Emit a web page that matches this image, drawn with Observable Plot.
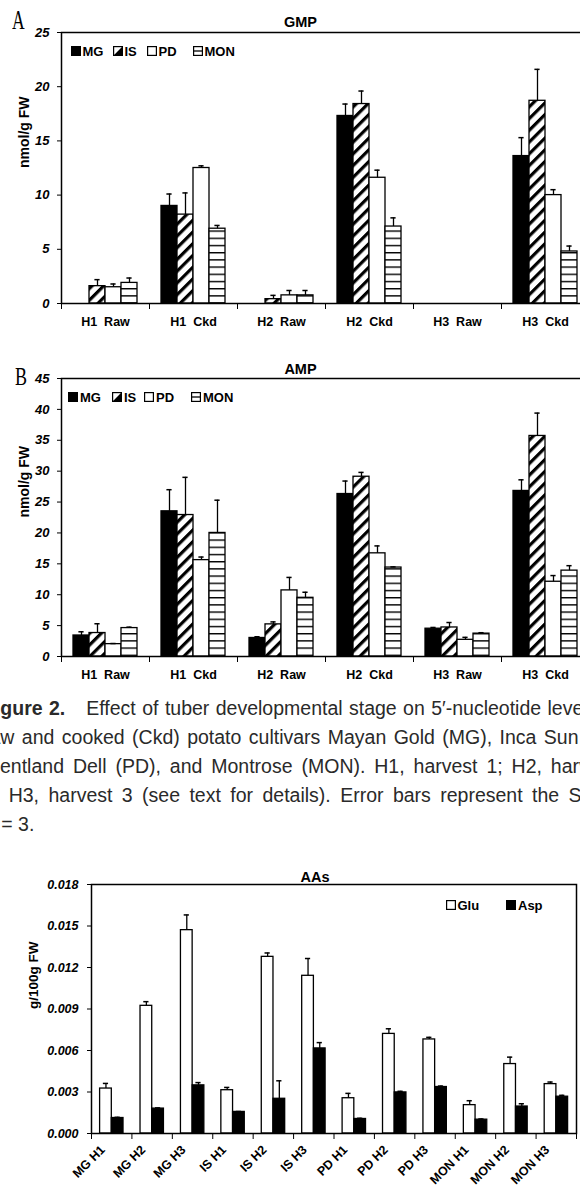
<!DOCTYPE html>
<html><head><meta charset="utf-8">
<script src="https://cdn.jsdelivr.net/npm/d3@7"></script>
<script src="https://cdn.jsdelivr.net/npm/@observablehq/plot@0.6"></script>
<style>
html, body {margin:0; padding:0; overflow:hidden; background:#fff;}
body {width:580px; height:1199px; position:relative; font-family:"Liberation Sans", Arial, sans-serif; color:#000;}
.panel {position:absolute; left:0;}
.panel svg {max-width:none !important; overflow:visible;}
svg text {white-space: pre;}
.lg {position:absolute; font-weight:bold; font-size:13px; line-height:13px; white-space:nowrap;}
.sw {position:absolute; display:block;}
.letter {position:absolute; font-family:"Liberation Serif","DejaVu Serif",serif; line-height:1; transform-origin:left top;}
.cap {position:absolute; left:0; top:694px; width:760px; font-size:19.5px; line-height:29px; color:#2a2a2a;}
.cap div {white-space:pre; position:relative;}
</style></head>
<body>
<svg width="0" height="0" style="position:absolute">
  <defs>
    <pattern id="hatchIS" patternUnits="userSpaceOnUse" width="8.3" height="8.3" patternTransform="rotate(45)">
      <rect width="8.3" height="8.3" fill="white"/>
      <rect x="0" y="0" width="3.2" height="8.3" fill="black"/>
    </pattern>
    <pattern id="linesMON" patternUnits="userSpaceOnUse" width="10" height="7.2">
      <rect width="10" height="7.2" fill="white"/>
      <rect x="0" y="0" width="10" height="1.4" fill="black"/>
    </pattern>
  </defs>
</svg>

<div class="letter" style="left:11.7px; top:6.7px; font-size:27px; transform:scaleX(0.65);">A</div>
<div class="letter" style="left:15px; top:364px; font-size:25px; transform:scaleX(0.72);">B</div>

<div id="panelA" class="panel" style="top:0px; width:600px;"></div>
<div id="panelB" class="panel" style="top:345px; width:600px;"></div>
<div id="panelC" class="panel" style="top:850px; width:580px;"></div>

<div class="cap">
  <div style="left:-17px; word-spacing:1px;"><b>Figure 2.</b><span style="margin-left:21px">Effect of tuber developmental stage on 5′-nucleotide levels in</span></div>
  <div style="left:-17px; word-spacing:2px;">raw and cooked (Ckd) potato cultivars Mayan Gold (MG), Inca Sun (IS),</div>
  <div style="left:-13px; word-spacing:3.5px;">Pentland Dell (PD), and Montrose (MON). H1, harvest 1; H2, harvest</div>
  <div style="left:-17px; word-spacing:4px;">2; H3, harvest 3 (see text for details). Error bars represent the SD,</div>
  <div style="left:-15px;">n = 3.</div>
</div>

<script>
// ---------------- data ----------------
const groupsAB = ["H1  Raw", "H1  Ckd", "H2  Raw", "H2  Ckd", "H3  Raw", "H3  Ckd"];
const cultivars = ["MG", "IS", "PD", "MON"];

// Panel A: GMP (nmol/g FW)
const yTicksA = [0, 5, 10, 15, 20, 25];
const gmpMG    = [0,   9.0, 0,    17.3, 0, 13.6];
const gmpIS    = [1.6, 8.2, 0.4,  18.4, 0, 18.7];
const gmpPD    = [1.5, 12.5, 0.75, 11.6, 0, 10.0];
const gmpMON   = [1.9, 6.9, 0.75, 7.1, 0, 4.8];
const gmpMGsd  = [0,    1.1, 0,    1.1, 0, 1.7];
const gmpISsd  = [0.6,  2.0, 0.35, 1.2, 0, 2.9];
const gmpPDsd  = [0.3,  0.2, 0.45, 0.7, 0, 0.5];
const gmpMONsd = [0.45, 0.3, 0.45, 0.8, 0, 0.5];

// Panel B: AMP (nmol/g FW)
const yTicksB = [0, 5, 10, 15, 20, 25, 30, 35, 40, 45];
const ampMG    = [3.4, 23.5, 3.0, 26.3, 4.5, 26.8];
const ampIS    = [3.8, 22.9, 5.2, 29.1, 4.7, 35.7];
const ampPD    = [2.0, 15.6, 10.7, 16.7, 2.7, 12.1];
const ampMON   = [4.6, 20.0, 9.5, 14.4, 3.7, 13.9];
const ampMGsd  = [0.6, 3.5, 0.2, 2.1, 0.2, 1.8];
const ampISsd  = [1.5, 6.1, 0.4, 0.7, 0.8, 3.7];
const ampPDsd  = [0.1, 0.5, 2.1, 1.2, 0.4, 1.0];
const ampMONsd = [0.15, 5.3, 0.9, 0.1, 0.15, 0.8];

// Panel C: amino acids (g/100g FW)
const catsC = ["MG H1", "MG H2", "MG H3", "IS H1", "IS H2", "IS H3", "PD H1", "PD H2", "PD H3", "MON H1", "MON H2", "MON H3"];
const yTicksC = [0, 0.003, 0.006, 0.009, 0.012, 0.015, 0.018];
const glu   = [0.00325, 0.00923, 0.0147, 0.00313, 0.01277, 0.0114, 0.00255, 0.0072, 0.0068, 0.00205, 0.00502, 0.00357];
const gluSD = [0.00037, 0.0003, 0.0011, 0.0002, 0.00028, 0.00125, 0.00035, 0.00037, 0.00015, 0.00032, 0.0005, 0.00015];
const asp   = [0.00112, 0.0018, 0.00348, 0.00156, 0.00251, 0.00615, 0.00105, 0.00297, 0.00336, 0.001, 0.00195, 0.00266];
const aspSD = [0.00005, 0.00005, 0.0002, 0.00003, 0.0013, 0.00042, 0.00005, 0.00008, 0.00007, 0.00005, 0.0002, 0.0001];

// ---------------- layout / style ----------------
const FONT = '"Liberation Sans", Arial, Helvetica, sans-serif';
const BAND_AB = 88, OFF_AB = 12 / BAND_AB, W_AB = 16 / BAND_AB, CAP_AB = 2.6 / BAND_AB;
const BAND_C = 40.4, OFF_C = 8.6 / BAND_C, W_C = 11.7 / BAND_C, CAP_C = 2.6 / BAND_C;
const fillsAB = ["black", "url(#hatchIS)", "white", "url(#linesMON)"];

function rowsOf(series, sds) {
  const rows = [];
  series.forEach((vals, k) => vals.forEach((v, i) => rows.push({i, k, v, e: sds[k][i]})));
  return rows;
}

function panelAB(el, title, series, sds, yTicks, yMax, opts) {
  const rows = rowsOf(series, sds);
  const shown = rows.filter(d => d.v > 0);
  const center = d => d.i + OFF_AB + (d.k + 0.5) * W_AB;
  const marks = [];
  cultivars.forEach((c, k) => {
    marks.push(Plot.rect(shown.filter(d => d.k === k), {
      x1: d => d.i + OFF_AB + d.k * W_AB, x2: d => d.i + OFF_AB + (d.k + 1) * W_AB,
      y1: 0, y2: "v", fill: fillsAB[k], stroke: "black", strokeWidth: 1.3
    }));
  });
  const withErr = shown.filter(d => d.e > 0);
  marks.push(Plot.ruleX(withErr, {x: center, y1: "v", y2: d => d.v + d.e, stroke: "black", strokeWidth: 1.3}));
  marks.push(Plot.ruleY(withErr, {y: d => d.v + d.e, x1: d => center(d) - CAP_AB, x2: d => center(d) + CAP_AB, stroke: "black", strokeWidth: 1.5}));
  marks.push(Plot.frame({stroke: "black", strokeWidth: 1.5}));
  marks.push(Plot.text(yTicks, {y: d => d, text: d => String(d), frameAnchor: "left", textAnchor: "end", dx: -12, fontSize: 13, fontWeight: "bold", fontStyle: "italic"}));
  marks.push(Plot.text([title], {text: d => d, frameAnchor: "top", dx: -25, dy: opts.titleDy, fontSize: 14.5, fontWeight: "bold"}));
  marks.push(Plot.text(["nmol/g FW"], {text: d => d, frameAnchor: "left", rotate: -90, dx: -37, fontSize: 14, fontWeight: "bold"}));
  marks.push(Plot.text(groupsAB, {text: d => d, x: (d, i) => i + 0.5, frameAnchor: "bottom", dy: 22, fontSize: 12.5, fontWeight: "bold"}));
  const svg = Plot.plot({
    width: 600, height: opts.height,
    marginTop: opts.mt, marginBottom: 30, marginLeft: 61, marginRight: 11,
    style: {fontFamily: FONT, fontSize: "13px", fontWeight: "bold", color: "black", background: "transparent", maxWidth: "none", overflow: "visible"},
    x: {domain: [0, groupsAB.length], ticks: d3.range(groupsAB.length + 1), tickFormat: () => "", tickSize: 6, label: null},
    y: {domain: [0, yMax], ticks: yTicks, tickFormat: () => "", tickSize: 4, tickPadding: 9, label: null},
    marks
  });
  el.appendChild(svg);
}

panelAB(document.getElementById("panelA"), "GMP",
  [gmpMG, gmpIS, gmpPD, gmpMON], [gmpMGsd, gmpISsd, gmpPDsd, gmpMONsd], yTicksA, 25,
  {height: 333, mt: 32, titleDy: -16});
panelAB(document.getElementById("panelB"), "AMP",
  [ampMG, ampIS, ampPD, ampMON], [ampMGsd, ampISsd, ampPDsd, ampMONsd], yTicksB, 45,
  {height: 341, mt: 33, titleDy: -15});

// Panel C
{
  const rows = [];
  catsC.forEach((c, i) => {
    rows.push({i, k: 0, v: glu[i], e: gluSD[i]});
    rows.push({i, k: 1, v: asp[i], e: aspSD[i]});
  });
  const center = d => d.i + OFF_C + (d.k + 0.5) * W_C;
  const fillsC = ["white", "black"];
  const marks = [];
  [0, 1].forEach(k => {
    marks.push(Plot.rect(rows.filter(d => d.k === k), {
      x1: d => d.i + OFF_C + d.k * W_C, x2: d => d.i + OFF_C + (d.k + 1) * W_C,
      y1: 0, y2: "v", fill: fillsC[k], stroke: "black", strokeWidth: 1.3
    }));
  });
  marks.push(Plot.ruleX(rows, {x: center, y1: "v", y2: d => d.v + d.e, stroke: "black", strokeWidth: 1.3}));
  marks.push(Plot.ruleY(rows, {y: d => d.v + d.e, x1: d => center(d) - CAP_C, x2: d => center(d) + CAP_C, stroke: "black", strokeWidth: 1.5}));
  marks.push(Plot.frame({stroke: "black", strokeWidth: 1.5}));
  marks.push(Plot.text(yTicksC, {y: d => d, text: d3.format(".3f"), frameAnchor: "left", textAnchor: "end", dx: -13, fontSize: 12.5, fontWeight: "bold", fontStyle: "italic"}));
  marks.push(Plot.text(["AAs"], {text: d => d, frameAnchor: "top", dx: -19, dy: -13, fontSize: 14.5, fontWeight: "bold"}));
  marks.push(Plot.text(["g/100g FW"], {text: d => d, frameAnchor: "left", rotate: -90, dx: -58, fontSize: 13.5, fontWeight: "bold"}));
  marks.push(Plot.text(catsC, {text: d => d, x: (d, i) => i + 0.5, frameAnchor: "bottom", rotate: -45, textAnchor: "end", dx: -6, dy: 17, fontSize: 12.5, fontWeight: "bold"}));
  const svg = Plot.plot({
    width: 580, height: 349,
    marginTop: 34, marginBottom: 66, marginLeft: 91, marginRight: 4,
    style: {fontFamily: FONT, fontSize: "12.5px", fontWeight: "bold", color: "black", background: "transparent", maxWidth: "none", overflow: "visible"},
    x: {domain: [0, catsC.length], ticks: d3.range(catsC.length + 1), tickFormat: () => "", tickSize: 6, label: null},
    y: {domain: [0, 0.018], ticks: yTicksC, tickFormat: () => "", tickSize: 4, tickPadding: 10, label: null},
    marks
  });
  document.getElementById("panelC").appendChild(svg);
}

// ---------------- legends (HTML overlays) ----------------
function swatch(kind) {
  const ns = "http://www.w3.org/2000/svg";
  const s = document.createElementNS(ns, "svg");
  s.setAttribute("width", 10); s.setAttribute("height", 10);
  let inner = "";
  if (kind === "black") inner = '<rect x="0.6" y="0.6" width="8.8" height="8.8" fill="black" stroke="black" stroke-width="1.2"/>';
  else if (kind === "white") inner = '<rect x="0.6" y="0.6" width="8.8" height="8.8" fill="white" stroke="black" stroke-width="1.2"/>';
  else if (kind === "hatch") inner = '<rect x="0.6" y="0.6" width="8.8" height="8.8" fill="white" stroke="black" stroke-width="1.2"/><polygon points="9.4,0.6 9.4,9.4 0.6,9.4" fill="black"/>';
  else if (kind === "lines") inner = '<rect x="0.6" y="0.6" width="8.8" height="8.8" fill="white" stroke="black" stroke-width="1.2"/><line x1="0.6" x2="9.4" y1="5" y2="5" stroke="black" stroke-width="1.3"/>';
  s.innerHTML = inner;
  return s;
}
function legend(items, cy) {
  items.forEach(it => {
    const sw = swatch(it.kind);
    sw.classList.add("sw");
    sw.style.left = it.x + "px";
    sw.style.top = (cy - 5) + "px";
    document.body.appendChild(sw);
    const t = document.createElement("div");
    t.className = "lg";
    t.textContent = it.label;
    t.style.left = (it.x + 12) + "px";
    t.style.top = (cy - 6.5) + "px";
    document.body.appendChild(t);
  });
}
const kindsAB = ["black", "hatch", "white", "lines"];
const legXA = [70.5, 112.5, 146.5, 192.5];
const legXB = [68, 112, 144, 191];
legend(cultivars.map((c, k) => ({label: c, kind: kindsAB[k], x: legXA[k]})), 51);
legend(cultivars.map((c, k) => ({label: c, kind: kindsAB[k], x: legXB[k]})), 397);
legend([{label: "Glu", kind: "white", x: 445.5}, {label: "Asp", kind: "black", x: 506}], 905);
</script>
</body></html>
